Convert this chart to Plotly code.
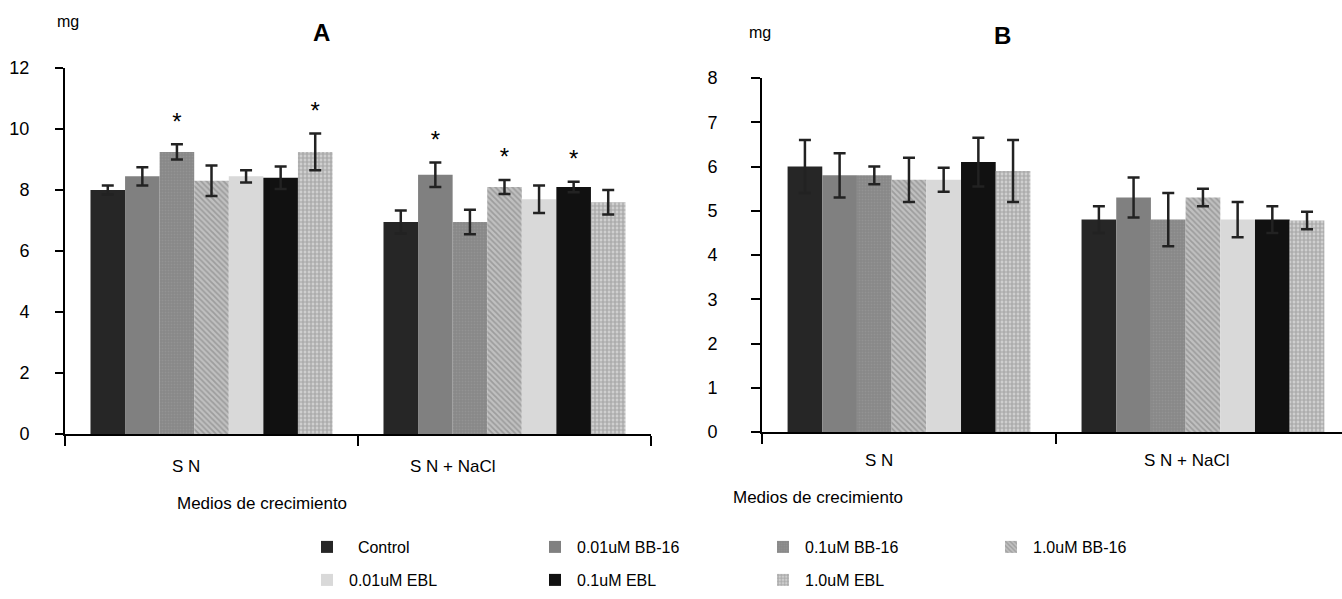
import plotly.graph_objects as go

# ---------------- data ----------------
groups = ["S N", "S N + NaCl"]
series = ["\u00a0\u00a0Control", "0.01uM BB-16", "0.1uM BB-16", "1.0uM BB-16",
          "0.01uM EBL", "0.1uM EBL", "1.0uM EBL"]

# Panel A (mg) values per series: [S N, S N + NaCl]
a_control = [8.0, 6.95]
a_bb001 = [8.45, 8.5]
a_bb01 = [9.25, 6.95]
a_bb10 = [8.3, 8.1]
a_ebl001 = [8.45, 7.7]
a_ebl01 = [8.4, 8.1]
a_ebl10 = [9.25, 7.6]
a_vals = [a_control, a_bb001, a_bb01, a_bb10, a_ebl001, a_ebl01, a_ebl10]

a_err_control = [0.15, 0.38]
a_err_bb001 = [0.3, 0.4]
a_err_bb01 = [0.25, 0.4]
a_err_bb10 = [0.5, 0.23]
a_err_ebl001 = [0.2, 0.45]
a_err_ebl01 = [0.37, 0.17]
a_err_ebl10 = [0.6, 0.4]
a_errs = [a_err_control, a_err_bb001, a_err_bb01, a_err_bb10,
          a_err_ebl001, a_err_ebl01, a_err_ebl10]

# significance marks (1 = asterisk) in panel A
a_sig = [[0, 0], [0, 1], [1, 0], [0, 1], [0, 0], [0, 1], [1, 0]]

# Panel B (mg)
b_control = [6.0, 4.8]
b_bb001 = [5.8, 5.3]
b_bb01 = [5.8, 4.8]
b_bb10 = [5.7, 5.3]
b_ebl001 = [5.7, 4.8]
b_ebl01 = [6.1, 4.8]
b_ebl10 = [5.9, 4.78]
b_vals = [b_control, b_bb001, b_bb01, b_bb10, b_ebl001, b_ebl01, b_ebl10]

b_err_control = [0.6, 0.3]
b_err_bb001 = [0.5, 0.45]
b_err_bb01 = [0.2, 0.6]
b_err_bb10 = [0.5, 0.2]
b_err_ebl001 = [0.27, 0.4]
b_err_ebl01 = [0.55, 0.3]
b_err_ebl10 = [0.7, 0.2]
b_errs = [b_err_control, b_err_bb001, b_err_bb01, b_err_bb10,
          b_err_ebl001, b_err_ebl01, b_err_ebl10]

# ---------------- styles ----------------
FONT = "Liberation Sans, Arial, sans-serif"
styles = [
    dict(color="#262626"),
    dict(color="#808080"),
    dict(color="#8a8a8a", pattern=dict(shape=".", fgcolor="#a0a0a0", bgcolor="#878787", size=3, solidity=0.35)),
    dict(color="#a8a8a8", pattern=dict(shape="\\", fgcolor="#7a7a7a", bgcolor="#c0c0c0", size=4, solidity=0.45)),
    dict(color="#d9d9d9"),
    dict(color="#111111"),
    dict(color="#a8a8a8", pattern=dict(shape="+", fgcolor="#7a7a7a", bgcolor="#cfcfcf", size=4, solidity=0.5)),
]

group_width = 0.826
nser = len(series)
bw = group_width / nser
star_pad_a = 0.68  # vertical gap between error bar top and asterisk (axis units)

fig = go.Figure()

def add_panel(vals, errs, xa, ya, showlegend, sig=None, pad=0.0):
    for i, name in enumerate(series):
        xs = [g + (i - (nser - 1) / 2) * bw for g in range(len(groups))]
        fig.add_trace(go.Bar(
            x=xs, y=vals[i], width=bw, name=name,
            marker=dict(line=dict(width=0), **styles[i]),
            error_y=dict(type="data", array=errs[i], color="#222222", thickness=2.5, width=6),
            xaxis=xa, yaxis=ya, showlegend=showlegend,
            legend="legend" if i < 4 else "legend2",
            hoverinfo="skip",
        ))
        if sig is not None and any(sig[i]):
            sx = [xs[g] for g in range(len(groups)) if sig[i][g]]
            sy = [vals[i][g] + errs[i][g] + pad for g in range(len(groups)) if sig[i][g]]
            fig.add_trace(go.Scatter(
                x=sx, y=sy, mode="text", text=["*"] * len(sx),
                textposition="middle center",
                textfont=dict(size=24, color="black", family=FONT),
                xaxis=xa, yaxis=ya, showlegend=False, hoverinfo="skip",
            ))

add_panel(a_vals, a_errs, "x", "y", True, a_sig, star_pad_a)
add_panel(b_vals, b_errs, "x2", "y2", False)

W, H = 1342, 599

def px(x):
    return x / W

def py(y):
    return 1 - y / H

axis_common = dict(showgrid=False, zeroline=False, showline=True, linecolor="black",
                   linewidth=2, ticks="outside", tickcolor="black", tickwidth=2,
                   automargin=False)

legend_common = dict(orientation="h", xanchor="left", yanchor="middle",
                     entrywidth=179, entrywidthmode="pixels", font=dict(size=16),
                     bgcolor="rgba(0,0,0,0)", itemclick=False, itemdoubleclick=False,
                     itemwidth=34)

fig.update_layout(
    width=W, height=H,
    margin=dict(l=0, r=0, t=0, b=0, autoexpand=False),
    paper_bgcolor="white", plot_bgcolor="white",
    font=dict(family=FONT, size=17, color="black"),
    barmode="overlay",
    xaxis=dict(domain=[px(65), px(651)], range=[-0.5, 1.5], anchor="y",
               tickvals=[-0.5, 0.5, 1.5], ticktext=["", "", ""], ticklen=10, **axis_common),
    yaxis=dict(domain=[py(434), py(68)], range=[0, 12], anchor="x",
               tickvals=[0, 2, 4, 6, 8, 10, 12], ticklen=8, ticklabelstandoff=22,
               tickfont=dict(size=18), **axis_common),
    xaxis2=dict(domain=[px(762), 1.0], range=[-0.5, 1.473], anchor="y2",
                tickvals=[-0.5, 0.5], ticktext=["", ""], ticklen=10, **axis_common),
    yaxis2=dict(domain=[py(432), py(78)], range=[0, 8], anchor="x2",
                tickvals=list(range(0, 9)), ticklen=9, ticklabelstandoff=30,
                tickfont=dict(size=18), **axis_common),
    legend=dict(x=px(305), y=py(547), **legend_common),
    legend2=dict(x=px(305), y=py(580), **legend_common),
)

def note(text, x, y, size, xref="paper", xshift=0):
    return dict(text=text, x=x, y=py(y), xref=xref, yref="paper", showarrow=False,
                xanchor="center", yanchor="middle", xshift=xshift, font=dict(size=size))

ann = [
    note("<b>A</b>", px(321), 32, 24),
    note("<b>B</b>", px(1002), 36, 24),
    note("mg", px(68), 22, 16),
    note("mg", px(760), 32, 16),
    note("Medios de crecimiento", px(262), 503, 17),
    note("Medios de crecimiento", px(818), 497, 17),
]
# category labels (slightly left of the group centres, as in the original)
a_label_shift = [-26, -52]
b_label_shift = [-30, -16]
for g, name in enumerate(groups):
    ann.append(note(name, g, 466, 17, xref="x", xshift=a_label_shift[g]))
    ann.append(note(name, g, 460, 17, xref="x2", xshift=b_label_shift[g]))
fig.update_layout(annotations=ann)

# remove the browser's default 8px page margin so the figure fills the window exactly
fig.write_html("out.html", config={"displayModeBar": False},
               post_script="document.body.style.margin='0px';")
